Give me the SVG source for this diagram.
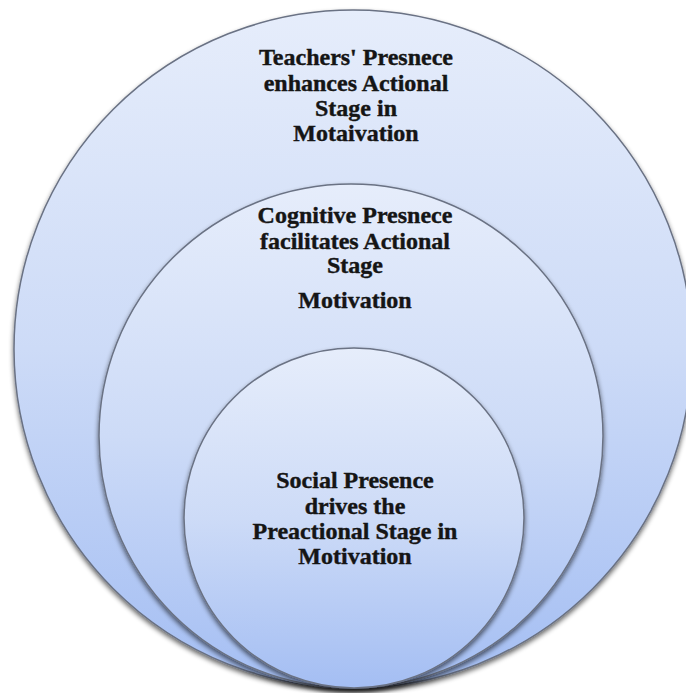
<svg xmlns="http://www.w3.org/2000/svg" width="686" height="693" viewBox="0 0 686 693">
  <defs>
    <linearGradient id="fillBlue" x1="0" y1="0" x2="0" y2="1">
      <stop offset="0" stop-color="#e6edfb"/>
      <stop offset="0.5" stop-color="#cddbf7"/>
      <stop offset="1" stop-color="#a4bef3"/>
    </linearGradient>
    <filter id="softShadow" x="-10%" y="-10%" width="120%" height="125%">
      <feGaussianBlur in="SourceAlpha" stdDeviation="2.5"/>
      <feOffset dx="0" dy="3" result="blur"/>
      <feComponentTransfer><feFuncA type="linear" slope="0.6"/></feComponentTransfer>
      <feMerge><feMergeNode/><feMergeNode in="SourceGraphic"/></feMerge>
    </filter>
  </defs>
  <style>
    .ring { fill: url(#fillBlue); stroke: #6a7284; stroke-width: 1.5; filter: url(#softShadow); }
    .label { font-family: "Liberation Serif", "Times New Roman", serif; font-weight: bold; font-size: 24px; fill: #151515; stroke: #151515; stroke-width: 0.4; text-anchor: middle; }
  </style>
  <rect width="686" height="693" fill="#ffffff"/>

  <g id="teacher-presence">
    <circle class="ring" cx="353" cy="349" r="339"/>
    <text class="label" x="356" y="65">Teachers' Presnece</text>
    <text class="label" x="356" y="91">enhances Actional</text>
    <text class="label" x="356" y="116">Stage in</text>
    <text class="label" x="356" y="141">Motaivation</text>
  </g>

  <g id="cognitive-presence">
    <circle class="ring" cx="351" cy="436" r="252"/>
    <text class="label" x="355" y="223">Cognitive Presnece</text>
    <text class="label" x="355" y="249">facilitates Actional</text>
    <text class="label" x="355" y="273">Stage</text>
    <text class="label" x="355" y="308">Motivation</text>
  </g>

  <g id="social-presence">
    <circle class="ring" cx="354" cy="518" r="170"/>
    <text class="label" x="355" y="488">Social Presence</text>
    <text class="label" x="355" y="514">drives the</text>
    <text class="label" x="355" y="539">Preactional Stage in</text>
    <text class="label" x="355" y="564">Motivation</text>
  </g>

  <g id="connectors"/>
</svg>
